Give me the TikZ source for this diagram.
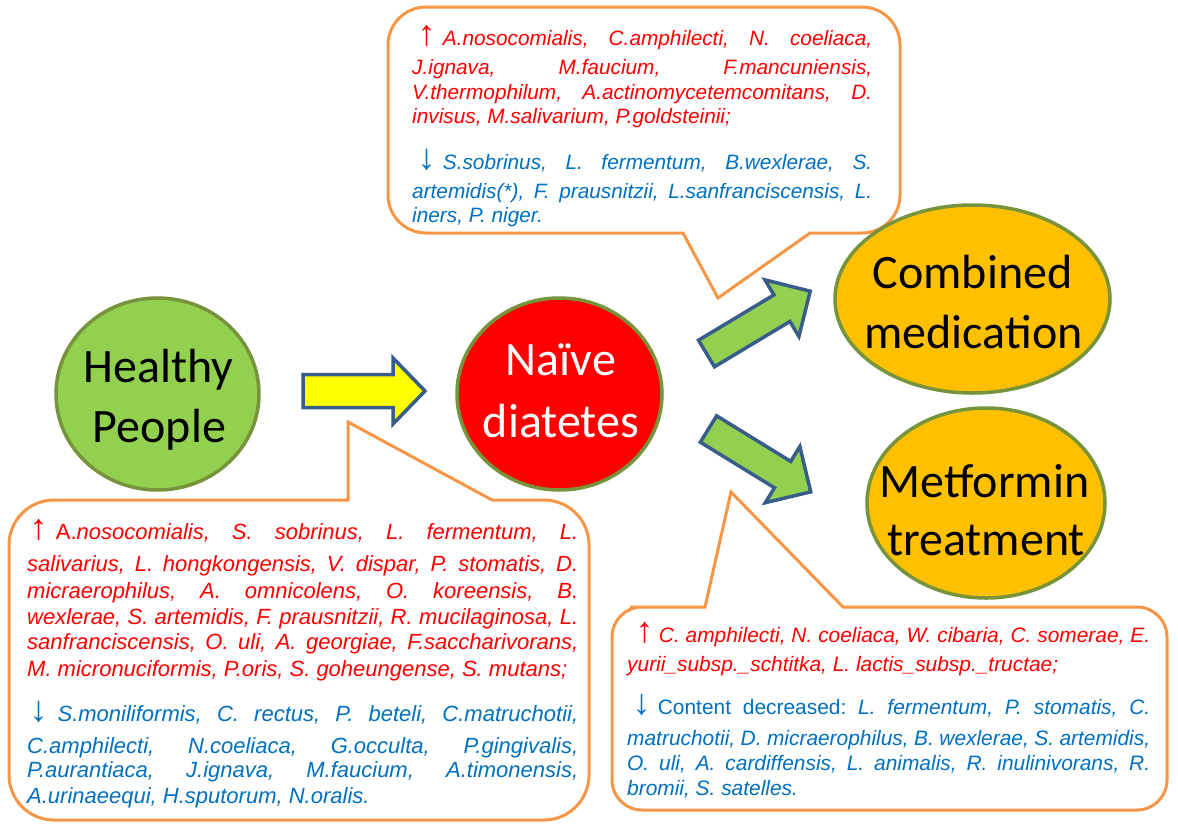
\documentclass[tikz,border=0pt]{standalone}
\usepackage{fontspec}
\setmainfont{Liberation Sans}
\newfontfamily\carlito{Carlito}
\usetikzlibrary{shapes.geometric}
\definecolor{calloutorange}{HTML}{F79646}
\definecolor{olivebd}{HTML}{77933C}
\definecolor{lgreen}{HTML}{92D050}
\definecolor{gold}{HTML}{FFC000}
\definecolor{abord}{HTML}{385D8A}
\definecolor{tblue}{HTML}{0070C0}
\definecolor{tred}{HTML}{FF0000}
\definecolor{yfill}{HTML}{FFFF00}
\frenchspacing
\newcommand\uarr{{\fontsize{36pt}{36pt}\selectfont\upshape ↑}}
\newcommand\darr{{\fontsize{36pt}{36pt}\selectfont\upshape ↓}}
\newcommand\jline[2]{\makebox[#1][s]{#2}}
\begin{document}
\begin{tikzpicture}[x=1pt,y=-1pt,
  bubble/.style={ellipse, draw=olivebd, line width=3.5pt, inner sep=0pt},
  bubtxt/.style={anchor=base, inner sep=0pt, font=\carlito\fontsize{48pt}{58pt}\selectfont},
  callout/.style={draw=calloutorange, line width=3pt, fill=white, line join=miter},
  blockarrow/.style={draw=abord, line width=3.5pt, line join=miter},
  ln/.style={anchor=base west, inner sep=0pt},
  topred/.style={ln, text=tred, font=\fontsize{20.8pt}{24pt}\selectfont\itshape},
  topblue/.style={ln, text=tblue, font=\fontsize{20.8pt}{24pt}\selectfont\itshape},
  blred/.style={ln, text=tred, font=\fontsize{22pt}{24pt}\selectfont\itshape},
  blblue/.style={ln, text=tblue, font=\fontsize{22pt}{24pt}\selectfont\itshape},
  brred/.style={ln, text=tred, font=\fontsize{20.9pt}{24pt}\selectfont\itshape},
  brblue/.style={ln, text=tblue, font=\fontsize{20.9pt}{24pt}\selectfont\itshape}
]
\fill[white] (0,0) rectangle (1178,830);
\useasboundingbox (0,0) rectangle (1178,830);

% callouts
\draw[callout] (718,298) -- (810,233) -- (855,233) [rounded corners=38pt] -- (900,233) -- (900,7) -- (388,7) -- (388,233) -- (600,233) [sharp corners] -- (683,233) -- cycle;
\draw[callout] (348,422) -- (492,500) -- (540,500) [rounded corners=45pt] -- (589,500) -- (589,820) -- (9,820) -- (9,500) -- (200,500) [sharp corners] -- (348,500) -- cycle;
\draw[callout] (731,492) -- (843,607) -- (1120,607) [rounded corners=30pt] -- (1167,607) -- (1167,810) -- (612,810) -- (612,607) -- (660,607) [sharp corners] -- (705,607) -- cycle;

% block arrows
\begin{scope}[shift={(303,391)}]
  \draw[blockarrow, fill=yfill] (0,-16.5) -- (90,-16.5) -- (90,-33) -- (122,0) -- (90,33) -- (90,16.5) -- (0,16.5) -- cycle;
\end{scope}
\begin{scope}[shift={(706.5,353.5)}, rotate=31]
  \draw[blockarrow, fill=lgreen] (0,-15.5) -- (88,-15.5) -- (88,-33) -- (121,0) -- (88,33) -- (88,15.5) -- (0,15.5) -- cycle;
\end{scope}
\begin{scope}[shift={(708.5,429)}, rotate=-31.6]
  \draw[blockarrow, fill=lgreen] (0,-15.5) -- (87,-15.5) -- (87,-33) -- (120,0) -- (87,33) -- (87,15.5) -- (0,15.5) -- cycle;
\end{scope}

% ellipses
\node[bubble, fill=lgreen, minimum width=203pt, minimum height=192pt] (healthy) at (157.5,394) {};
\node[bubble, fill=red, minimum width=205pt, minimum height=192pt] (naive) at (559.5,394) {};
\node[bubble, fill=gold, minimum width=275pt, minimum height=188pt] (combined) at (972.5,299) {};
\node[bubble, fill=gold, minimum width=238pt, minimum height=190pt] (metformin) at (986,503) {};

\node[bubtxt] (healthy1) at (158.5,382) {Healthy};
\node[bubtxt] (healthy2) at (159.5,442) {People};
\node[bubtxt, text=white] (naive1) at (561,375) {Naïve};
\node[bubtxt, text=white] (naive2) at (561,437) {diatetes};
\node[bubtxt] (combined1) at (972.5,288) {Combined};
\node[bubtxt] (combined2) at (973.5,348) {medication};
\node[bubtxt] (metformin1) at (984.5,497) {Metformin};
\node[bubtxt] (metformin2) at (986,555) {treatment};

% top callout text
\node[topred] (t1) at (412,45) {\jline{460pt}{\hspace*{5.4pt}\uarr\hspace*{7.3pt}A.nosocomialis, C.amphilecti, N. coeliaca,}};
\node[topred] (t2) at (412,74) {\jline{460pt}{J.ignava, M.faucium, F.mancuniensis,}};
\node[topred] (t3) at (412,99) {\jline{460pt}{V.thermophilum, A.actinomycetemcomitans, D.}};
\node[topred] (t4) at (412,123) {invisus, M.salivarium, P.goldsteinii;};
\node[topblue] (t5) at (412,169) {\jline{460pt}{\hspace*{5.4pt}\darr\hspace*{7.3pt}S.sobrinus, L. fermentum, B.wexlerae, S.}};
\node[topblue] (t6) at (412,198) {\jline{460pt}{artemidis(*), F. prausnitzii, L.sanfranciscensis, L.}};
\node[topblue] (t7) at (412,222) {iners, P. niger.};

% bottom-left callout text
\node[blred] (b1) at (27,539) {\jline{551pt}{\hspace*{2.4pt}\uarr\hspace*{8.3pt}\textup{A.}nosocomialis, S. sobrinus, L. fermentum, L.}};
\node[blred] (b2) at (27,571) {\jline{551pt}{salivarius, L. hongkongensis, V. dispar, P. stomatis, D.}};
\node[blred] (b3) at (27,598) {\jline{551pt}{micraerophilus, A. omnicolens, O. koreensis, B.}};
\node[blred] (b4) at (27,624) {\jline{551pt}{wexlerae, S. artemidis, F. prausnitzii, R. mucilaginosa, L.}};
\node[blred] (b5) at (27,649) {\jline{551pt}{sanfranciscensis, O. uli, A. georgiae, F.saccharivorans,}};
\node[blred] (b6) at (27,676) {M. micronuciformis, P.oris, S. goheungense, S. mutans;};
\node[blblue] (b7) at (27,721) {\jline{551pt}{\hspace*{2.4pt}\darr\hspace*{10pt}S.moniliformis, C. rectus, P. beteli, C.matruchotii,}};
\node[blblue] (b8) at (27,753) {\jline{551pt}{C.amphilecti, N.coeliaca, G.occulta, P.gingivalis,}};
\node[blblue] (b9) at (27,777) {\jline{551pt}{P.aurantiaca, J.ignava, M.faucium, A.timonensis,}};
\node[blblue] (b10) at (27,803) {A.urinaeequi, H.sputorum, N.oralis.};

% bottom-right callout text
\node[brred] (r1) at (627,642) {\jline{523pt}{\hspace*{8.4pt}\uarr\hspace*{5.3pt}C. amphilecti, N. coeliaca, W. cibaria, C. somerae, E.}};
\node[brred] (r2) at (627,671) {yurii\_subsp.\_schtitka, L. lactis\_subsp.\_tructae;};
\node[brblue] (r3) at (627,714) {\jline{523pt}{\hspace*{5.4pt}\darr\hspace*{7.3pt}\textup{Content decreased:} L. fermentum, P. stomatis, C.}};
\node[brblue] (r4) at (627,745) {\jline{523pt}{matruchotii, D. micraerophilus, B. wexlerae, S. artemidis,}};
\node[brblue] (r5) at (627,770) {\jline{523pt}{O. uli, A. cardiffensis, L. animalis, R. inulinivorans, R.}};
\node[brblue] (r6) at (627,795) {bromii, S. satelles.};
\end{tikzpicture}
\end{document}
